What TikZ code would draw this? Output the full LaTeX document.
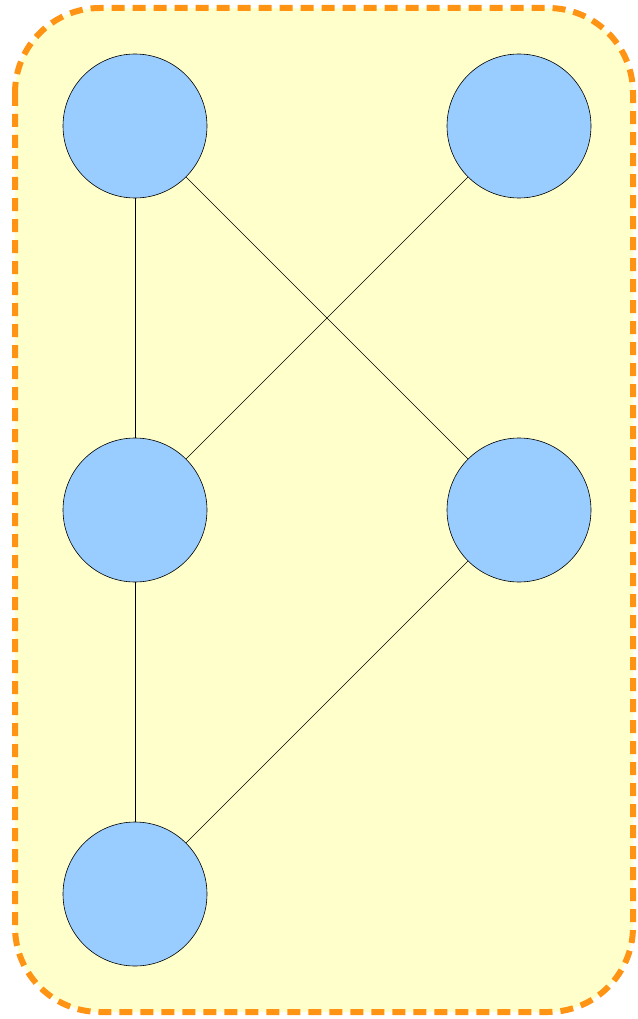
\documentclass[tikz,border=0pt]{standalone}
\usepackage{tikz}
\definecolor{panelfill}{HTML}{FFFFCC}
\definecolor{paneldash}{HTML}{FF9314}
\definecolor{vertexfill}{HTML}{99CCFF}
\tikzset{
  panel box/.style={
    draw=paneldash, fill=panelfill, line width=6pt,
    dash pattern=on 13pt off 8pt, rounded corners=85pt
  },
  vertex/.style={
    circle, draw=black, fill=vertexfill, line width=0.6pt,
    minimum size=144pt, inner sep=0pt
  },
  link/.style={
    draw=black, line width=0.6pt
  }
}
\begin{document}
\begin{tikzpicture}[x=1pt, y=-1pt]
  \useasboundingbox (0,0) rectangle (637,1019);
  \path [panel box] (15,8) rectangle (633,1012);

  \node (v1) [vertex] at (135,126) {};
  \node (v2) [vertex] at (519,126) {};
  \node (v3) [vertex] at (135,510) {};
  \node (v4) [vertex] at (519,510) {};
  \node (v5) [vertex] at (135,894) {};

  \draw [link] (v1) -- (v3);
  \draw [link] (v1) -- (v4);
  \draw [link] (v2) -- (v3);
  \draw [link] (v3) -- (v5);
  \draw [link] (v4) -- (v5);
\end{tikzpicture}
\end{document}
